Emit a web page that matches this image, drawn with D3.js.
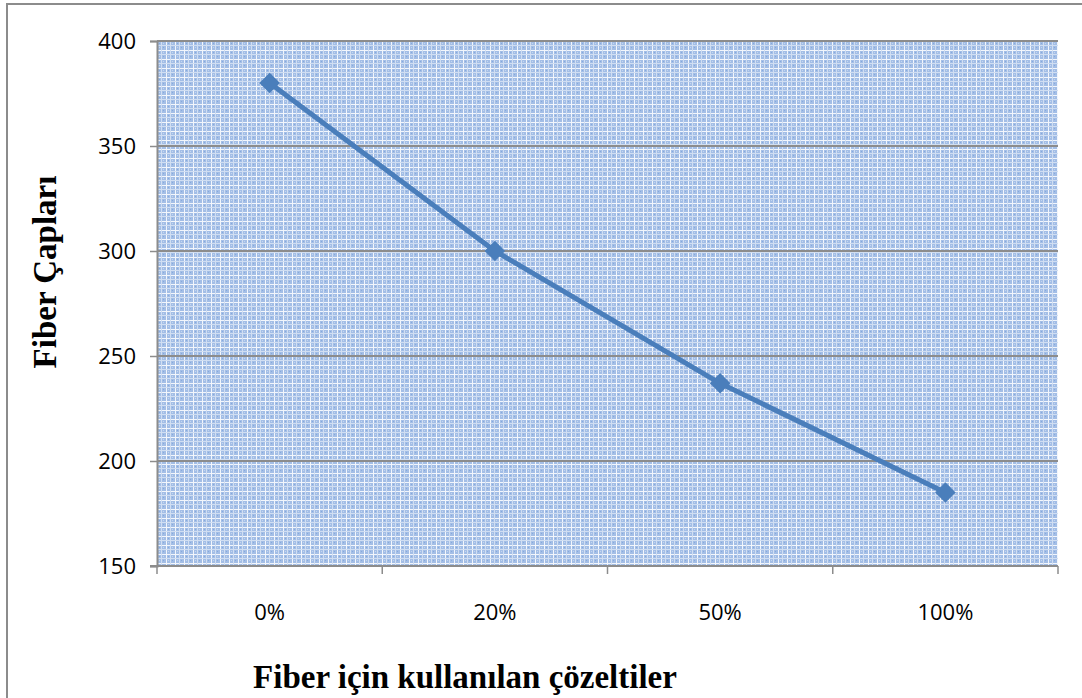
<!DOCTYPE html>
<html>
<head>
<meta charset="utf-8">
<script src="https://cdn.jsdelivr.net/npm/d3@7"></script>
<style>
  body { margin: 0; background: #fff; }
  svg { display: block; }
</style>
</head>
<body>
<div id="chart"></div>
<script>
// chart data
const categories = ["0%", "20%", "50%", "100%"];
const values = [380, 300, 237, 185];
const yTicks = [150, 200, 250, 300, 350, 400];

const width = 1082, height = 698;
const margin = { top: 41, right: 24, bottom: 132, left: 157 };

const svg = d3.select("#chart").append("svg")
    .attr("width", width)
    .attr("height", height);

// plaid texture for the plot area
const defs = svg.append("defs");
const pat = defs.append("pattern")
    .attr("id", "plaid")
    .attr("patternUnits", "userSpaceOnUse")
    .attr("width", 9)
    .attr("height", 9)
    .attr("x", margin.left)
    .attr("y", margin.top);
pat.append("rect").attr("width", 9).attr("height", 9).attr("fill", "#a3bee6");
pat.append("rect").attr("x", 0).attr("y", 0).attr("width", 9).attr("height", 1).attr("fill", "#f2f6fc");
pat.append("rect").attr("x", 0).attr("y", 0).attr("width", 1).attr("height", 9).attr("fill", "#f2f6fc");
pat.append("rect").attr("x", 0).attr("y", 4).attr("width", 9).attr("height", 1).attr("fill", "#d0def2");
pat.append("rect").attr("x", 4).attr("y", 0).attr("width", 1).attr("height", 9).attr("fill", "#d0def2");
pat.append("rect").attr("x", 2).attr("y", 2).attr("width", 1).attr("height", 1).attr("fill", "#86a9dc");
pat.append("rect").attr("x", 6).attr("y", 6).attr("width", 1).attr("height", 1).attr("fill", "#86a9dc");
pat.append("rect").attr("x", 6).attr("y", 2).attr("width", 1).attr("height", 1).attr("fill", "#c4d6ef");
pat.append("rect").attr("x", 2).attr("y", 6).attr("width", 1).attr("height", 1).attr("fill", "#c4d6ef");

// outer chart border
svg.append("rect")
    .attr("x", 7).attr("y", 4)
    .attr("width", width + 10).attr("height", height + 10)
    .attr("fill", "none")
    .attr("stroke", "#8c8c8c")
    .attr("stroke-width", 2);

const x = d3.scaleBand()
    .domain(categories)
    .range([margin.left, width - margin.right]);

const y = d3.scaleLinear()
    .domain([150, 400])
    .range([height - margin.bottom, margin.top]);

const g = svg.append("g");

g.append("rect")
    .attr("x", margin.left)
    .attr("y", margin.top)
    .attr("width", width - margin.right - margin.left)
    .attr("height", height - margin.bottom - margin.top)
    .attr("fill", "url(#plaid)");

// horizontal gridlines
g.append("g")
    .selectAll("line")
    .data(yTicks.filter(d => d > 150))
    .join("line")
    .attr("x1", margin.left)
    .attr("x2", width - margin.right)
    .attr("y1", d => y(d))
    .attr("y2", d => y(d))
    .attr("stroke", "#8c8c8c")
    .attr("stroke-width", 2);

// y axis
const yAxis = g.append("g")
    .attr("transform", `translate(${margin.left},0)`)
    .call(d3.axisLeft(y).tickValues(yTicks).tickSize(7).tickPadding(14));
yAxis.select(".domain").attr("stroke", "#8c8c8c").attr("stroke-width", 2);
yAxis.selectAll(".tick line").attr("stroke", "#8c8c8c").attr("stroke-width", 1.5);
yAxis.selectAll("text")
    .attr("fill", "#000")
    .attr("font-family", "'Open Sans', sans-serif")
    .attr("font-size", 22);

// x axis, ticks between categories
const xAxis = g.append("g")
    .attr("transform", `translate(0,${height - margin.bottom})`);
xAxis.append("line")
    .attr("x1", margin.left - 7)
    .attr("x2", width - margin.right)
    .attr("stroke", "#8c8c8c")
    .attr("stroke-width", 2);
const bounds = categories.map(c => x(c)).concat([x.range()[1]]);
xAxis.selectAll(".xtick")
    .data(bounds)
    .join("line")
    .attr("class", "xtick")
    .attr("x1", d => d).attr("x2", d => d)
    .attr("y1", 0).attr("y2", 8)
    .attr("stroke", "#8c8c8c")
    .attr("stroke-width", 1.5);
xAxis.selectAll(".xlabel")
    .data(categories)
    .join("text")
    .attr("class", "xlabel")
    .attr("x", d => x(d) + x.bandwidth() / 2)
    .attr("y", 54)
    .attr("text-anchor", "middle")
    .attr("font-family", "'Open Sans', sans-serif")
    .attr("font-size", 22)
    .text(d => d);

// series line + diamond markers
const cx = (d, i) => x(categories[i]) + x.bandwidth() / 2;
g.append("path")
    .datum(values)
    .attr("fill", "none")
    .attr("stroke", "#4a7ebb")
    .attr("stroke-width", 5)
    .attr("stroke-linejoin", "round")
    .attr("d", d3.line().x(cx).y(d => y(d)));

g.append("g")
    .selectAll("path")
    .data(values)
    .join("path")
    .attr("transform", (d, i) => `translate(${cx(d, i)},${y(d)})`)
    .attr("d", d3.symbol(d3.symbolDiamond2, 270))
    .attr("fill", "#4a7ebb");

// axis titles
svg.append("text")
    .attr("transform", "translate(56,272) rotate(-90)")
    .attr("text-anchor", "middle")
    .attr("font-family", "'Liberation Serif', 'Times New Roman', serif")
    .attr("font-weight", "bold")
    .attr("font-size", 33)
    .text("Fiber Çapları");

svg.append("text")
    .attr("x", 465)
    .attr("y", 688)
    .attr("text-anchor", "middle")
    .attr("font-family", "'Liberation Serif', 'Times New Roman', serif")
    .attr("font-weight", "bold")
    .attr("font-size", 33)
    .text("Fiber için kullanılan çözeltiler");
</script>
</body>
</html>
